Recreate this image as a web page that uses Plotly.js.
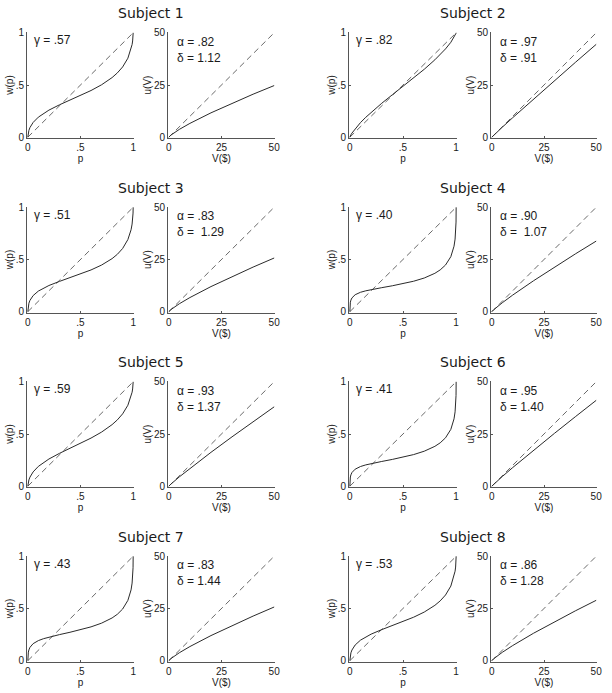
<!DOCTYPE html>
<html>
<head>
<meta charset="utf-8">
<script src="https://cdn.plot.ly/plotly-3.0.1.min.js"></script>
<style>html,body{margin:0;padding:0;background:#fff;}#chart{width:612px;height:693px;}</style>
</head>
<body>
<div id="chart"></div>
<script>
// ---------------- data ----------------
const subjectNames = ["Subject 1","Subject 2","Subject 3","Subject 4","Subject 5","Subject 6","Subject 7","Subject 8"];
const gammaLabels = ["\u03b3 = .57","\u03b3 = .82","\u03b3 = .51","\u03b3 = .40","\u03b3 = .59","\u03b3 = .41","\u03b3 = .43","\u03b3 = .53"];
const alphaLabels = ["\u03b1 = .82","\u03b1 = .97","\u03b1 = .83","\u03b1 = .90","\u03b1 = .93","\u03b1 = .95","\u03b1 = .83","\u03b1 = .86"];
const deltaLabels = ["\u03b4 = 1.12","\u03b4 = .91","\u03b4 =\u00a0 1.29","\u03b4 =\u00a0 1.07","\u03b4 = 1.37","\u03b4 = 1.40","\u03b4 = 1.44","\u03b4 = 1.28"];

const pGrid = [0, 0.001, 0.005, 0.01, 0.02, 0.05, 0.1, 0.15, 0.2, 0.3, 0.4, 0.5, 0.6, 0.7, 0.8, 0.85, 0.9, 0.95, 0.98, 0.99, 0.995, 0.999, 1];
const wS1 = [0, .019, .045, .065, .092, .141, .192, .229, .259, .310, .355, .399, .447, .502, .571, .616, .673, .757, .842, .888, .922, .967, 1];
const wS2 = [0, .0035, .0128, .0225, .0393, .0813, .1396, .1908, .2379, .3249, .4066, .4865, .567, .6508, .7414, .7912, .846, .9092, .9555, .9743, .9852, .996, 1];
const wS3 = [0, .0279, .0593, .0806, .1078, .154, .1974, .227, .2507, .2899, .3252, .3608, .3999, .4466, .5083, .5499, .6055, .6913, .7846, .8396, .8824, .945, 1];
const wS4 = [0, .0542, .0909, .1107, .1323, .1623, .1857, .2, .2112, .23, .2481, .268, .2918, .3227, .3676, .4003, .4471, .5271, .6274, .6955, .7549, .8586, 1];
const wS5 = [0, .0165, .041, .0598, .0863, .1366, .1896, .2283, .2603, .3144, .3628, .4104, .4608, .5182, .5897, .6353, .6931, .7759, .8571, .9004, .9315, .9722, 1];
const wS6 = [0, .0513, .088, .1083, .1308, .1628, .1882, .204, .2163, .2368, .2564, .2776, .3027, .3352, .3818, .4154, .4633, .5445, .645, .7124, .7705, .8702, 1];
const wS7 = [0, .0457, .082, .1031, .1272, .1629, .1923, .211, .2255, .2497, .2722, .2962, .324, .3594, .4093, .4448, .4948, .5779, .6782, .7436, .799, .8907, 1];
const wS8 = [0, .0245, .0543, .0751, .1024, .1502, .1964, .2285, .2543, .2974, .3359, .3745, .4165, .4659, .5303, .573, .6294, .7149, .8055, .8576, .8972, .9537, 1];

const vGrid = [0, 1, 5, 10, 20, 30, 40, 50];
const uS1 = [0, 1, 3.742, 6.607, 11.664, 16.265, 20.592, 24.725];
const uS2 = [0, 1, 4.764, 9.333, 18.28, 27.09, 35.81, 44.46];
const uS3 = [0, 1, 3.803, 6.761, 12.018, 16.827, 21.366, 25.713];
const uS4 = [0, 1, 4.257, 7.943, 14.822, 21.351, 27.66, 33.812];
const uS5 = [0, 1, 4.467, 8.511, 16.216, 23.644, 30.898, 38.023];
const uS6 = [0, 1, 4.613, 8.913, 17.217, 25.307, 33.265, 41.116];
const uS7 = [0, 1, 3.803, 6.761, 12.018, 16.827, 21.366, 25.713];
const uS8 = [0, 1, 3.991, 7.244, 13.148, 18.634, 23.867, 28.913];

const diagP = [0, 1];
const diagV = [0, 50];
const pTicks = [0, 0.5, 1];
const pTickText = ["0", ".5", "1"];
const vTicks = [0, 25, 50];
const vTickText = ["0", "25", "50"];

const wSeries = [wS1, wS2, wS3, wS4, wS5, wS6, wS7, wS8];
const uSeries = [uS1, uS2, uS3, uS4, uS5, uS6, uS7, uS8];

// ---------------- layout geometry (pixels) ----------------
const W = 612, H = 693;
const colX = [[27, 134, 168, 275], [349, 457, 491, 597]];
const rowTop0 = 32, rowStep = 174.5, panelH = 106;

const FONT = "Liberation Sans, Arial, Helvetica, sans-serif";
const TITLEFONT = "DejaVu Sans, Verdana, sans-serif";
const INK = "#1a1a1a";

const traces = [];
const layout = {
  width: W, height: H,
  margin: {l: 0, r: 0, t: 0, b: 0},
  paper_bgcolor: "#fff", plot_bgcolor: "#fff",
  showlegend: false,
  font: {family: FONT, size: 10, color: INK},
  annotations: []
};

function axisBase(domain, range, tv, tt, title, anchor, standoff) {
  return {
    domain: domain, range: range, anchor: anchor,
    showline: true, linecolor: "#555", linewidth: 1,
    ticks: "inside", ticklen: 2, tickcolor: "#555", tickwidth: 1,
    tickvals: tv, ticktext: tt,
    tickfont: {family: FONT, size: 10, color: INK},
    showgrid: false, zeroline: false, fixedrange: true,
    title: {text: title, font: {family: FONT, size: 10, color: INK}, standoff: standoff}
  };
}

for (let k = 0; k < 8; k++) {
  const r = Math.floor(k / 2), c = k % 2;
  const top = rowTop0 + rowStep * r, bot = top + panelH;
  const yDom = [1 - bot / H, 1 - top / H];
  const [wl, wr, ul, ur] = colX[c];
  const iw = 2 * k + 1, iu = 2 * k + 2;
  const xw = "x" + iw, yw = "y" + iw, xu = "x" + iu, yu = "y" + iu;
  const kx = (i) => (i === 1 ? "xaxis" : "xaxis" + i);
  const ky = (i) => (i === 1 ? "yaxis" : "yaxis" + i);

  layout[kx(iw)] = axisBase([wl / W, wr / W], [-0.008, 1.008], pTicks, pTickText, "p", yw, 2);
  layout[ky(iw)] = axisBase(yDom, [-0.008, 1.008], pTicks, pTickText, "w(p)", xw, 0);
  layout[kx(iu)] = axisBase([ul / W, ur / W], [-0.4, 50.4], vTicks, vTickText, "V($)", yu, 2);
  layout[ky(iu)] = axisBase(yDom, [-0.4, 50.4], vTicks, vTickText, "u(V)", xu, 0);

  // dashed identity lines
  traces.push({x: diagP, y: diagP, xaxis: xw, yaxis: yw, mode: "lines",
    line: {color: "#6a6a6a", width: 1, dash: "6px,4px"}, hoverinfo: "skip"});
  traces.push({x: pGrid, y: wSeries[k], xaxis: xw, yaxis: yw, mode: "lines",
    line: {color: "#2a2a2a", width: 1}, hoverinfo: "skip"});
  traces.push({x: diagV, y: diagV, xaxis: xu, yaxis: yu, mode: "lines",
    line: {color: "#6a6a6a", width: 1, dash: "6px,4px"}, hoverinfo: "skip"});
  traces.push({x: vGrid, y: uSeries[k], xaxis: xu, yaxis: yu, mode: "lines",
    line: {color: "#2a2a2a", width: 1}, hoverinfo: "skip"});

  // subject title
  layout.annotations.push({
    text: subjectNames[k], xref: "paper", yref: "paper",
    x: ((wl + ur) / 2) / W, y: 1 - (top - 19) / H,
    xanchor: "center", yanchor: "middle", showarrow: false,
    font: {family: TITLEFONT, size: 14, color: INK}
  });
  // parameter labels
  layout.annotations.push({
    text: gammaLabels[k], xref: xw + " domain", yref: yw + " domain",
    x: 0.045, y: 0.92, xanchor: "left", yanchor: "middle", showarrow: false,
    font: {family: FONT, size: 12, color: INK}
  });
  layout.annotations.push({
    text: alphaLabels[k], xref: xu + " domain", yref: yu + " domain",
    x: 0.065, y: 0.91, xanchor: "left", yanchor: "middle", showarrow: false,
    font: {family: FONT, size: 12, color: INK}
  });
  layout.annotations.push({
    text: deltaLabels[k], xref: xu + " domain", yref: yu + " domain",
    x: 0.065, y: 0.755, xanchor: "left", yanchor: "middle", showarrow: false,
    font: {family: FONT, size: 12, color: INK}
  });
}

Plotly.newPlot("chart", traces, layout, {staticPlot: true, displayModeBar: false});
</script>
</body>
</html>
